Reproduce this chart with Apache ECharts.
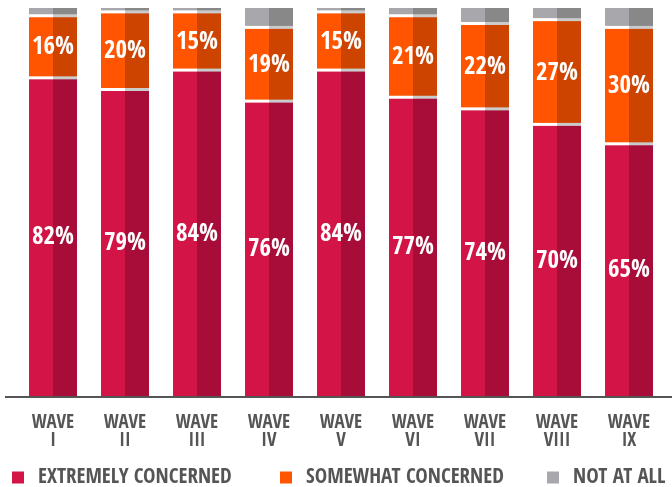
<!DOCTYPE html>
<html>
<head>
<meta charset="utf-8">
<script src="https://cdn.jsdelivr.net/npm/echarts@6/dist/echarts.min.js"></script>
<style>
  html, body { margin: 0; padding: 0; background: #fff; }
  #chart { width: 672px; height: 487px; }
</style>
</head>
<body>
<div id="chart"></div>
<script>
  // 数据
  var waves = ['WAVE\nI', 'WAVE\nII', 'WAVE\nIII', 'WAVE\nIV', 'WAVE\nV', 'WAVE\nVI', 'WAVE\nVII', 'WAVE\nVIII', 'WAVE\nIX'];
  var extremely = [82, 79, 84, 76, 84, 77, 74, 70, 65];
  var somewhat = [16, 20, 15, 19, 15, 21, 22, 27, 30];
  var notAtAll = [2, 1, 1, 5, 1, 2, 4, 3, 5];

  var CONDENSED = '"Open Sans Condensed", "Open Sans", sans-serif';

  // 每段左右两种颜色，做出立体感
  var segs = [
    { name: 'EXTREMELY CONCERNED', values: extremely, light: '#D21446', dark: '#A80D3A', label: true, sep: true },
    { name: 'SOMEWHAT CONCERNED', values: somewhat, light: '#FF5500', dark: '#CC4400', label: true, sep: true },
    { name: 'NOT AT ALL', values: notAtAll, light: '#A8A8AC', dark: '#888888', label: false, sep: false }
  ];

  function buildData(k) {
    var out = [];
    for (var i = 0; i < waves.length; i++) {
      var base = 0;
      for (var j = 0; j < k; j++) base += segs[j].values[i];
      out.push([i, base, base + segs[k].values[i], segs[k].values[i]]);
    }
    return out;
  }

  function makeRender(seg) {
    return function (params, api) {
      var i = api.value(0);
      var p0 = api.coord([i, api.value(1)]);
      var p1 = api.coord([i, api.value(2)]);
      var w = api.size([1, 0])[0] * 2 / 3;
      var half = w / 2;
      var h = p0[1] - p1[1];
      var children = [
        { type: 'rect', shape: { x: p0[0] - half, y: p1[1], width: half, height: h }, style: { fill: seg.light } },
        { type: 'rect', shape: { x: p0[0], y: p1[1], width: half, height: h }, style: { fill: seg.dark } }
      ];
      if (seg.sep) {
        children.push({ type: 'rect', z2: 100, shape: { x: p0[0] - half, y: p1[1] - 1.5, width: half, height: 3 }, style: { fill: '#ffffff' } });
        children.push({ type: 'rect', z2: 100, shape: { x: p0[0], y: p1[1] - 1.5, width: half, height: 3 }, style: { fill: '#CBCBCB' } });
      }
      if (seg.label) {
        children.push({
          type: 'text', z2: 120,
          x: p0[0], y: (p0[1] + p1[1]) / 2 + 1,
          style: {
            text: api.value(3) + '%', fill: '#fff',
            font: 'bold 25px ' + CONDENSED,
            align: 'center', verticalAlign: 'middle'
          }
        });
      }
      return { type: 'group', children: children };
    };
  }

  var series = segs.map(function (seg, k) {
    return {
      name: seg.name,
      type: 'custom',
      itemStyle: { color: seg.light },
      renderItem: makeRender(seg),
      encode: { x: 0, y: [1, 2] },
      data: buildData(k)
    };
  });

  var legendBase = {
    top: 467,
    padding: 0,
    icon: 'rect',
    itemWidth: 12,
    itemHeight: 12,
    textStyle: { color: '#555', fontSize: 21, fontWeight: 'bold', fontFamily: CONDENSED, padding: [0, 0, 0, 9] }
  };
  var legendLefts = [12, 280, 547];

  var myChart = echarts.init(document.getElementById('chart'));
  myChart.setOption({
    animation: false,
    grid: { left: 17, right: 7, top: 8, bottom: 91 },
    legend: segs.map(function (seg, k) {
      return Object.assign({}, legendBase, { left: legendLefts[k], data: [seg.name] });
    }),
    xAxis: {
      type: 'category',
      data: waves,
      axisLine: { show: false },
      axisTick: { show: false },
      axisLabel: { color: '#555', fontSize: 19, fontWeight: 'bold', fontFamily: CONDENSED, lineHeight: 18, margin: 18 }
    },
    yAxis: {
      type: 'value',
      min: 0,
      max: 100,
      show: false
    },
    graphic: [{
      type: 'line',
      shape: { x1: 5, y1: 397, x2: 672, y2: 397 },
      style: { stroke: '#555', lineWidth: 2 }
    }],
    series: series
  });
</script>
</body>
</html>
